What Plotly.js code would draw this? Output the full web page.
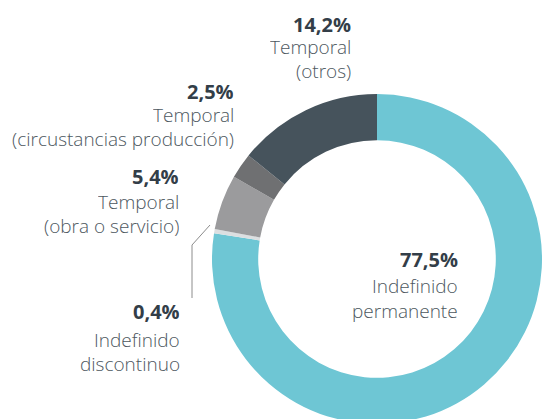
<!DOCTYPE html>
<html>
<head>
<meta charset="utf-8">
<script src="https://cdn.plot.ly/plotly-3.0.1.min.js"></script>
<style>
  html, body { margin: 0; padding: 0; overflow: hidden; background: #fff; }
  #chart { width: 547px; height: 430px; }
</style>
</head>
<body>
<div id="chart"></div>
<script>
// contract types, clockwise from 12 o'clock
const labels = [
    "Indefinido permanente",
    "Indefinido discontinuo",
    "Temporal (obra o servicio)",
    "Temporal (circustancias producción)",
    "Temporal (otros)",
];
const values = [77.5, 0.4, 5.4, 2.5, 14.2];
const pctText = ["77,5%", "0,4%", "5,4%", "2,5%", "14,2%"];
const nameLines = [
    ["Indefinido", "permanente"],
    ["Indefinido", "discontinuo"],
    ["Temporal", "(obra o servicio)"],
    ["Temporal", "(circustancias producción)"],
    ["Temporal", "(otros)"],
];
const colors = ["#6ec6d4", "#dcdfe1", "#9b9b9d", "#6f7072", "#46535c"];

// plot box (pixels) - the ring runs off the bottom/right edge
const W = 547, H = 430;
const M = { l: 212, r: 5, t: 94, b: 6 };
const pw = W - M.l - M.r, ph = H - M.t - M.b;
const px = (x) => (x - M.l) / pw;
const py = (y) => 1 - (y - M.t) / ph;

// right edge and baselines of each label block
const labelRight = [459, 181, 180, 235, 352];
const labelBase = [
    [267, 293, 318],
    [319, 347, 371],
    [184, 209, 233],
    [99, 122, 146],
    [31.5, 54.5, 78.5],
];

const annotations = [];
labels.forEach((_, i) => {
    const lines = [pctText[i]].concat(nameLines[i]);
    lines.forEach((t, j) => {
        const bold = j === 0;
        const size = bold ? 20 : 19;
        annotations.push({
            xref: "paper", yref: "paper",
            x: px(labelRight[i]), y: py(labelBase[i][j] - 0.39 * size),
            xanchor: "right", yanchor: "middle", align: "right",
            valign: "middle", height: 22,
            showarrow: false, borderpad: 0,
            text: bold ? `<b>${t}</b>` : t,
            font: {
                family: "Open Sans, sans-serif",
                size: size,
                color: bold ? "#333e48" : "#4d5760",
                weight: bold ? 700 : 300,
            },
        });
    });
});

const data = [{
    type: "pie",
    labels: labels,
    values: values,
    sort: false,
    direction: "clockwise",
    rotation: 0,
    hole: 0.72,
    textinfo: "none",
    hoverinfo: "label+percent",
    marker: { colors: colors, line: { width: 0 } },
    showlegend: false,
}];

const layout = {
    width: W,
    height: H,
    margin: M,
    paper_bgcolor: "#ffffff",
    font: { family: "Open Sans, sans-serif", size: 18, color: "#4d5760" },
    annotations: annotations,
    shapes: [{
        // leader line for the thin "discontinuo" slice
        type: "path",
        xref: "paper", yref: "paper",
        path: `M ${px(210)} ${py(225)} L ${px(192)} ${py(245)} L ${px(192)} ${py(298)}`,
        line: { color: "#8c8c8c", width: 1 },
    }],
};

Plotly.newPlot("chart", data, layout, { displayModeBar: false, staticPlot: true });
</script>
</body>
</html>
